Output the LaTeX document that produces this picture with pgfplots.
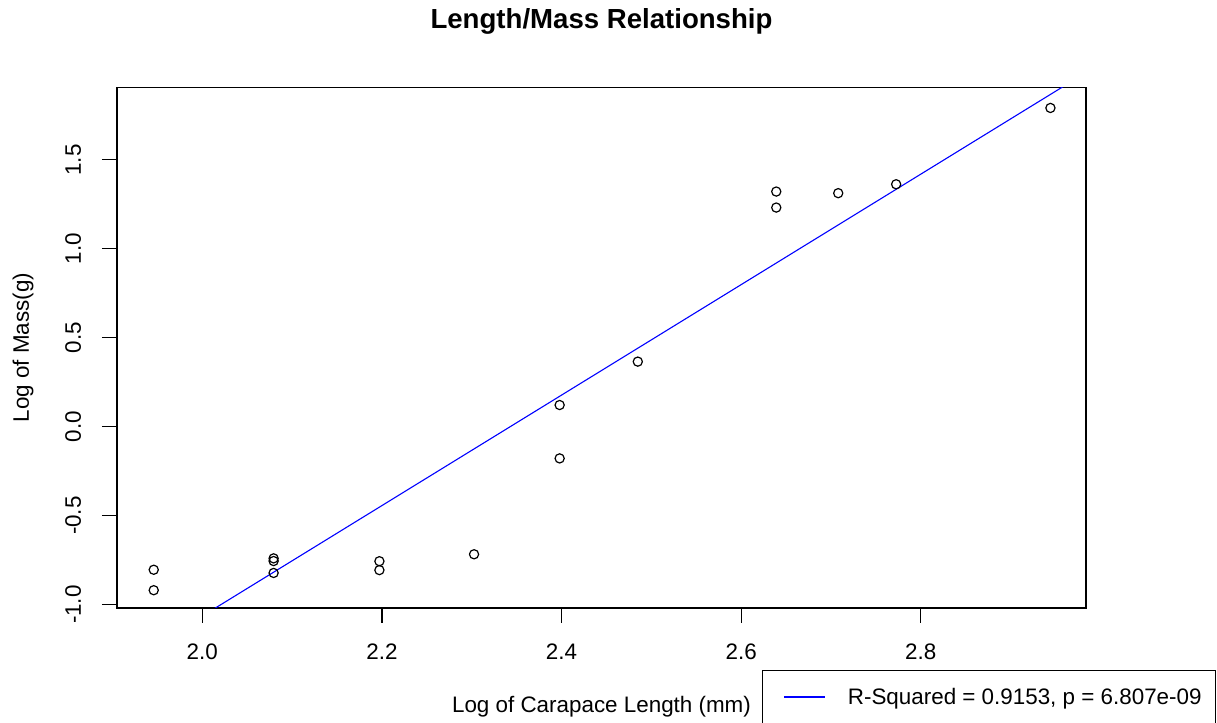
\documentclass[border=0pt]{standalone}
\usepackage{fontspec}
\setmainfont{Liberation Sans}
\usepackage{pgfplots}
\usepackage{pgfplotstable}
\pgfplotsset{compat=1.18}

% log carapace length vs log mass, 16 animals
\pgfplotstableread{
x y
1.9459 -0.804
1.9459 -0.919
2.0794 -0.740
2.0794 -0.755
2.0794 -0.822
2.1972 -0.756
2.1972 -0.806
2.3026 -0.717
2.3979 0.122
2.3979 -0.178
2.4849 0.366
2.6391 1.322
2.6391 1.232
2.7081 1.313
2.7726 1.363
2.9444 1.792
}\lengthmass

% least squares fit, y = 3.105 x - 7.2744, drawn edge to edge
\pgfplotstableread{
x y
1.85 -1.530
3.05 2.196
}\fitline

\begin{document}
\begin{tikzpicture}
\useasboundingbox (-58.5pt,-57.5pt) rectangle (550pt,304pt);
\clip (-58.5pt,-57.5pt) rectangle (550pt,304pt);
\begin{axis}[
    at={(0pt,0pt)}, anchor=south west,
    width=484.5pt, height=260.25pt, scale only axis,
    xmin=1.905, xmax=2.984, ymin=-1.019, ymax=1.907,
    xtick={2.0,2.2,2.4,2.6,2.8},
    ytick={-1,-0.5,0,0.5,1,1.5},
    tick pos=left, tick align=outside,
    major tick length=7.5pt,
    axis line style={line width=0.6pt},
    every tick/.style={black, line width=0.6pt},
    /pgf/number format/.cd, fixed, fixed zerofill, precision=1, assume math mode=true,
    /pgfplots/.cd,
    tick label style={font=\fontsize{11.2}{13}\selectfont},
    xticklabel style={anchor=base, yshift=-18.5pt},
    yticklabel style={xshift=-10.5pt, rotate=90, anchor=base},
    title={Length/Mass Relationship},
    title style={at={(0.5,1)}, anchor=base, yshift=23.25pt,
        font=\bfseries\fontsize{13.8}{16}\selectfont},
    xlabel={Log of Carapace Length (mm)},
    every axis x label/.style={at={(axis description cs:0.5,0)}, anchor=base,
        yshift=-52.5pt, font=\fontsize{11.2}{13}\selectfont},
    ylabel={Log of Mass(g)},
    every axis y label/.style={at={(axis description cs:0,0.5)}, xshift=-44pt,
        rotate=90, anchor=base, font=\fontsize{11.2}{13}\selectfont},
    legend style={at={(0.6656,-0.1191)}, anchor=north west,
        line width=0.6pt, inner xsep=7pt, inner ysep=8.8pt,
        font=\fontsize{11.2}{13}\selectfont,
        nodes={inner sep=0pt}, column sep=11pt},
    legend image code/.code={
        \path (0pt,0pt);
        \draw[#1, draw=blue, line width=0.8pt] (3.5pt,0.4pt) -- (24pt,0.4pt);
    },
]
\addplot[only marks, mark=o, mark size=2.3pt, black,
    mark options={line width=0.6pt}, forget plot] table[x=x, y=y] {\lengthmass};
\addplot[blue, line width=0.55pt] table[x=x, y=y] {\fitline};
\addlegendentry{R-Squared = 0.9153, p = 6.807e-09}
\end{axis}
\end{tikzpicture}
\end{document}
